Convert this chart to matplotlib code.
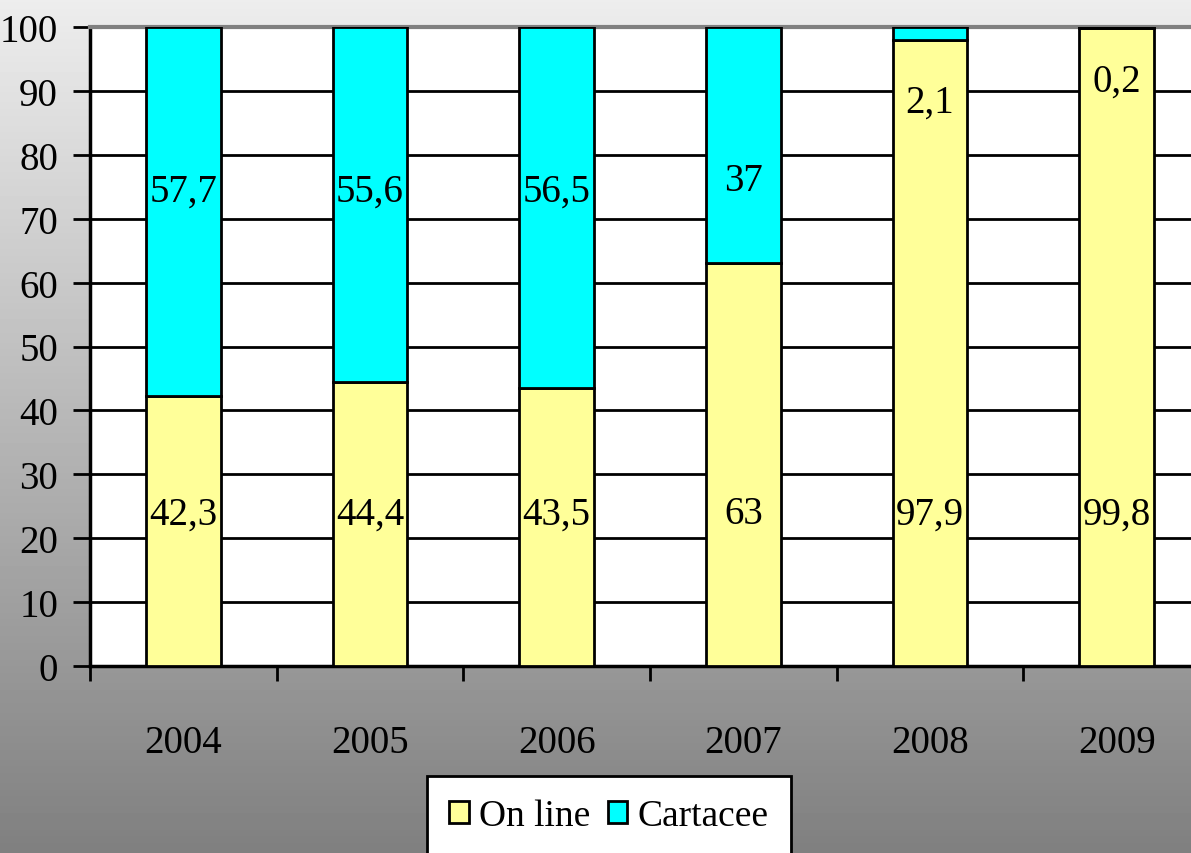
import numpy as np
import matplotlib
matplotlib.use("Agg")
import matplotlib.pyplot as plt

# Data
years = ['2004', '2005', '2006', '2007', '2008', '2009']
online = [42.3, 44.4, 43.5, 63, 97.9, 99.8]
cartacee = [57.7, 55.6, 56.5, 37, 2.1, 0.2]

plt.rcParams['font.family'] = ['Liberation Serif', 'DejaVu Serif']
fs = 28

fig = plt.figure(figsize=(11.91, 8.54), dpi=100)

# gray gradient background
bg = fig.add_axes([0, 0, 1, 1], zorder=-10)
grad = np.linspace(0.93, 0.50, 256).reshape(-1, 1)
bg.imshow(grad, aspect='auto', cmap='gray', vmin=0, vmax=1, extent=[0, 1, 0, 1])
bg.axis('off')

ax = fig.add_axes([90 / 1191, 1 - 667 / 854, 1120 / 1191, 639 / 854])
ax.set_facecolor('white')

x = np.arange(len(years))
w = 0.40
ax.bar(x, online, w, color='#FFFF99', edgecolor='black', linewidth=2, label='On line', zorder=3)
ax.bar(x, cartacee, w, bottom=online, color='#00FFFF', edgecolor='black', linewidth=2,
       label='Cartacee', zorder=3)

# data labels (placed like the original)
fmt = lambda v: f"{v:g}".replace('.', ',')
on_y = [23.8, 23.8, 23.8, 23.8, 23.8, 23.8]
ca_y = [74.3, 74.3, 74.3, 75.9, 88.3, 91.5]
for i in range(len(years)):
    ax.text(x[i], on_y[i], fmt(online[i]), ha='center', va='center', fontsize=fs, zorder=5)
    ax.text(x[i], ca_y[i], fmt(cartacee[i]), ha='center', va='center', fontsize=fs, zorder=5)

ax.set_xlim(-0.5, len(years) - 0.5)
ax.set_ylim(0, 100)
ax.set_yticks(range(0, 101, 10))
ax.yaxis.grid(True, color='black', linewidth=2, zorder=0)
ax.set_axisbelow(True)

ax.set_xticks(x)
ax.set_xticklabels(years, fontsize=fs)
ax.set_xticks(np.arange(-0.5, len(years), 1), minor=True)
ax.tick_params(axis='x', which='major', length=0, pad=42)
ax.tick_params(axis='x', which='minor', length=11, width=2, direction='out')
ax.tick_params(axis='y', labelsize=fs, length=12, width=2, direction='out', pad=11)

for s in ['left', 'bottom']:
    ax.spines[s].set_linewidth(2.5)
ax.spines['right'].set_visible(False)
ax.spines['top'].set_color('#808080')
ax.spines['top'].set_linewidth(3)

leg = fig.legend(loc='upper center', bbox_to_anchor=(609 / 1191, 1 - 777 / 854), ncol=2,
                 fontsize=27, frameon=True, fancybox=False, edgecolor='black',
                 handlelength=0.52, handleheight=0.52, handletextpad=0.28,
                 columnspacing=0.45, borderpad=0.6, borderaxespad=0)
leg.get_frame().set_linewidth(2)
leg.get_frame().set_facecolor('white')
leg.get_frame().set_alpha(1)

plt.savefig('out.png', dpi=100)
